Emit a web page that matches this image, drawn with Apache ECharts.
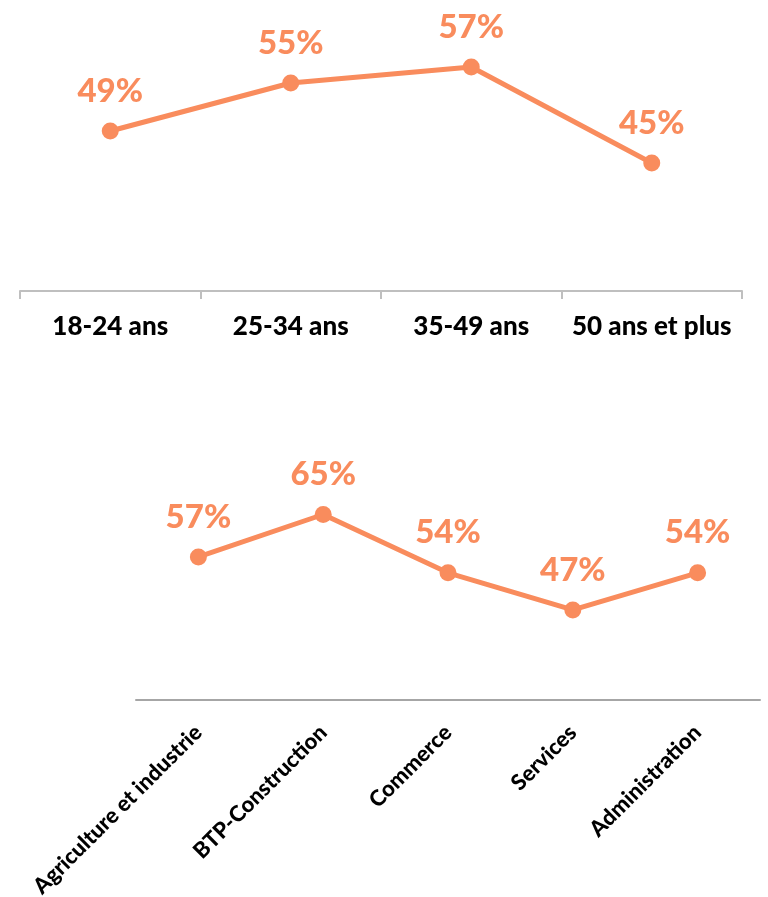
<!DOCTYPE html>
<html>
<head>
<meta charset="utf-8">
<script src="https://cdn.jsdelivr.net/npm/echarts@6/dist/echarts.min.js"></script>
<style>
  html, body { margin: 0; padding: 0; background: #fff; }
  #chart { width: 768px; height: 897px; }
</style>
</head>
<body>
<div id="chart"></div>
<script>
// tranches d'âge
var ageCategories = ['18-24 ans', '25-34 ans', '35-49 ans', '50 ans et plus'];
var ageValues = [49, 55, 57, 45];
// secteurs
var sectorCategories = ['Agriculture et industrie', 'BTP-Construction', 'Commerce', 'Services', 'Administration'];
var sectorValues = [57, 65, 54, 47, 54];

var orange = '#F98C5D';
var fontFam = 'Lato, "Open Sans", sans-serif';

var chart = echarts.init(document.getElementById('chart'));
var labelStyle = {
  show: true,
  position: 'top',
  distance: 15,
  formatter: '{c}%',
  color: orange,
  fontFamily: fontFam,
  fontWeight: 900,
  fontSize: 33
};
chart.setOption({
  animation: false,
  grid: [
    { left: 20, right: 26, top: 3, height: 288, outerBoundsMode: 'none' },
    { left: 136, right: 8, top: 488, height: 212, outerBoundsMode: 'none' }
  ],
  xAxis: [
    {
      gridIndex: 0,
      type: 'category',
      data: ageCategories,
      boundaryGap: true,
      axisLine: { lineStyle: { color: '#BFBFBF', width: 2 } },
      axisTick: { show: true, length: 8, lineStyle: { color: '#BFBFBF', width: 2 } },
      axisLabel: { margin: 23, interval: 0, color: '#000', fontFamily: fontFam, fontWeight: 900, fontSize: 26 }
    },
    {
      gridIndex: 1,
      type: 'category',
      data: sectorCategories,
      boundaryGap: true,
      axisLine: { lineStyle: { color: '#A6A6A6', width: 2 } },
      axisTick: { show: false },
      axisLabel: { margin: 29, rotate: 45, interval: 0, color: '#000', fontFamily: fontFam, fontWeight: 900, fontSize: 22 }
    }
  ],
  yAxis: [
    { gridIndex: 0, type: 'value', min: 29, max: 65, show: false, splitLine: { show: false } },
    { gridIndex: 1, type: 'value', min: 30, max: 70, show: false, splitLine: { show: false } }
  ],
  series: [
    {
      type: 'line',
      xAxisIndex: 0,
      yAxisIndex: 0,
      data: ageValues,
      symbol: 'circle',
      symbolSize: 17,
      lineStyle: { color: orange, width: 5 },
      itemStyle: { color: orange },
      label: labelStyle
    },
    {
      type: 'line',
      xAxisIndex: 1,
      yAxisIndex: 1,
      data: sectorValues,
      symbol: 'circle',
      symbolSize: 17,
      lineStyle: { color: orange, width: 5 },
      itemStyle: { color: orange },
      label: labelStyle
    }
  ]
});
</script>
</body>
</html>
